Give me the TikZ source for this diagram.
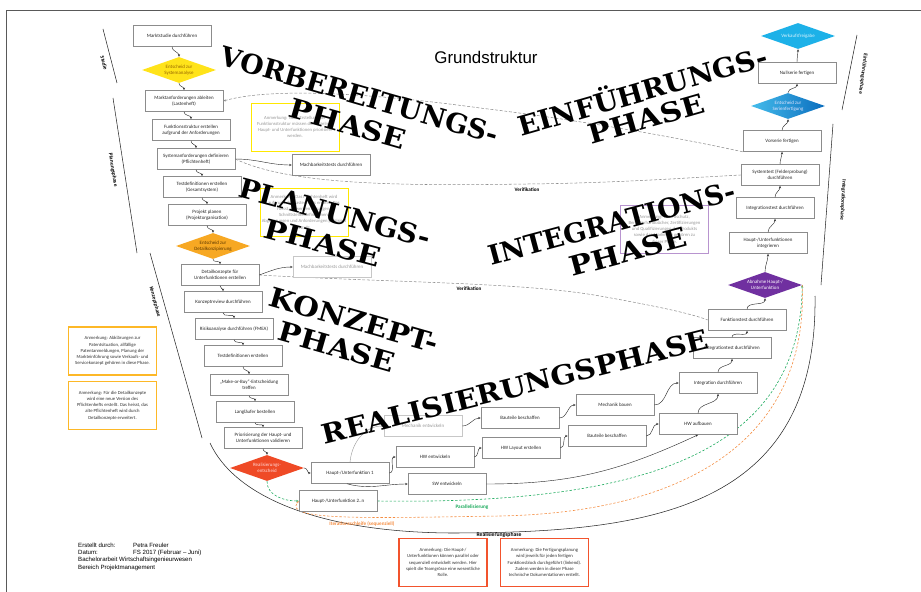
\documentclass[tikz,border=0pt]{standalone}
\usepackage{fontspec}
\newfontfamily\calfont{Carlito}
\newfontfamily\arifont{Liberation Sans}
\newfontfamily\wafont{DejaVu Serif}
\usetikzlibrary{shapes.geometric,arrows.meta,shadows,backgrounds}
\definecolor{boxgray}{HTML}{8C8C8C}
\definecolor{dyellow}{HTML}{FFE31A}
\definecolor{dorange}{HTML}{F7A823}
\definecolor{dred}{HTML}{EF4A26}
\definecolor{dpurple}{HTML}{7030A0}
\definecolor{dbluel}{HTML}{45BCEB}
\definecolor{dblued}{HTML}{0A6DBE}
\definecolor{dcyan}{HTML}{1DB1E8}
\definecolor{ayellow}{HTML}{FFE800}
\definecolor{aorange}{HTML}{FDB827}
\definecolor{ared}{HTML}{F2532D}
\definecolor{apurple}{HTML}{B894CF}
\definecolor{pgreen}{HTML}{1BAA5C}
\definecolor{porange}{HTML}{F58E43}
\begin{document}
\begin{tikzpicture}[x=0.03cm,y=0.03cm,
  bxbase/.style={rectangle, fill=white, minimum width=2.34cm, minimum height=0.63cm, inner sep=0.5pt, align=center, font=\calfont\fontsize{4.2}{5.4}\selectfont},
  bx/.style={bxbase, draw=boxgray, line width=0.5pt, text=black!85, drop shadow={shadow xshift=0.5pt, shadow yshift=-0.5pt, fill=black!60, opacity=0.35}},
  fbx/.style={bxbase, draw=black!22, line width=0.5pt, text=black!40},
  dia/.style={diamond, aspect=2.8, minimum width=2.22cm, minimum height=0.78cm, inner sep=0pt, align=center, font=\calfont\fontsize{4.2}{5.2}\selectfont},
  anno/.style={rectangle, fill=white, minimum width=2.64cm, minimum height=1.44cm, inner sep=1pt, align=center, font=\calfont\fontsize{4}{5.3}\selectfont},
  cn/.style={-{Stealth[length=2.2pt,width=1.8pt]}, line width=0.35pt, black!85},
  verif/.style={dash pattern=on 2.5pt off 1.5pt, black!45, line width=0.45pt},
  phl/.style={black!85, line width=0.45pt},
  sl/.style={font=\calfont\bfseries\fontsize{4.6}{5}\selectfont, inner sep=0pt},
  lbl/.style={font=\calfont\bfseries\fontsize{4.4}{5}\selectfont, inner sep=0pt},
  wa/.style={font=\wafont\bfseries\fontsize{23}{23}\selectfont, inner sep=0pt, text=black},
  info/.style={font=\arifont\fontsize{5.2}{6}\selectfont, anchor=west, inner sep=0pt}
]
\useasboundingbox (0,0) rectangle (921,-592);

% ---------- left column ----------
\node[bx] (mst) at (172,-36) {Marktstudie durchführen};
\node[dia, fill=dyellow, text={rgb,255:red,150;green,100;blue,0}] (d1) at (179,-70) {Entscheid zur\\Systemanalyse};
\node[bx] (ma) at (184,-101) {Marktanforderungen ableiten\\(Lastenheft)};
\node[bx] (fs) at (191,-130) {Funktionsstruktur erstellen\\aufgrund der Anforderungen};
\node[bx] (sa) at (196,-159) {Systemanforderungen definieren\\(Pflichtenheft)};
\node[bx] (td) at (202,-187) {Testdefinitionen erstellen\\(Gesamtsystem)};
\node[bx] (pp) at (207,-215) {Projekt planen\\(Projektorganisation)};
\node[dia, fill=dorange, text={rgb,255:red,90;green,55;blue,0}] (d2) at (213,-246) {Entscheid zur\\Detailkonzipierung};
\node[bx] (dk) at (220,-275) {Detailkonzepte für\\Unterfunktionen erstellen};
\node[bx] (kr) at (223,-302) {Konzeptreview durchführen};
\node[bx] (ra) at (234,-329) {Risikoanalyse durchführen (FMEA)};
\node[bx] (td2) at (243,-356) {Testdefinitionen erstellen};
\node[bx] (mb) at (249,-385) {„Make-or-Buy“-Entscheidung\\treffen};
\node[bx] (ll) at (255,-412) {Langläufer bestellen};
\node[bx] (pr) at (263,-438) {Priorisierung der Haupt- und\\Unterfunktionen validieren};
\node[dia, fill=dred, text=white!85!red] (d3) at (267,-468) {Realisierungs-\\entscheid};

\node[bx] (mk1) at (331,-165) {Machbarkeitstests durchführen};
\node[fbx] (mk2) at (332,-267) {Machbarkeitstests durchführen};

% ---------- realisation ----------
\node[bx] (h1) at (350,-473) {Haupt-/Unterfunktion 1};
\node[bx] (h2) at (338,-501) {Haupt-/Unterfunktion 2..n};
\node[bx] (hw) at (435,-457) {HW entwickeln};
\node[bx] (sw) at (447,-484) {SW entwickeln};
\node[fbx] (me) at (423,-426) {Mechanik entwickeln};
\node[bx] (bt1) at (520,-418) {Bauteile beschaffen};
\node[bx] (hl) at (521,-448) {HW Layout erstellen};
\node[bx] (mbau) at (615,-405) {Mechanik bauen};
\node[bx] (bt2) at (607,-436) {Bauteile beschaffen};
\node[bx] (ha) at (698,-424) {HW aufbauen};
\node[bx] (id) at (718,-383) {Integration durchführen};
\node[bx] (it) at (732,-348) {Integrationtest durchführen};
\node[bx] (ft) at (747,-320) {Funktionstest durchführen};

% ---------- right column ----------
\node[dia, fill=dpurple, text=white] (d4) at (765,-285) {Abnahme Haupt-/\\Unterfunktion};
\node[bx] (hi) at (768,-243) {Haupt-/Unterfunktionen\\integrieren};
\node[bx] (it2) at (775,-208) {Integrationstest durchführen};
\node[bx] (st) at (780,-175) {Systemtest (Felderprobung)\\durchführen};
\node[bx] (vs) at (782,-141) {Vorserie fertigen};
\node[dia, left color=dbluel, right color=dblued, text=white!90!blue] (d5) at (788,-106) {Entscheid zur\\Serienfertigung};
\node[bx] (ns) at (797,-73) {Nullserie fertigen};
\node[dia, fill=dcyan, text=white!85!cyan] (d6) at (798,-36) {Verkaufsfreigabe};

% ---------- connectors ----------
\foreach \a/\b in {mst/d1, d1/ma, ma/fs, fs/sa, sa/td, td/pp, pp/d2, d2/dk, dk/kr, kr/ra, ra/td2, td2/mb, mb/ll, ll/pr, pr/d3}
  \draw[cn] (\a.south) to[out=-90,in=90] (\b.north);
\foreach \a/\b in {ha/id, id/it, it/ft, ft/d4, d4/hi, hi/it2, it2/st, st/vs, vs/d5, d5/ns, ns/d6}
  \draw[cn] (\a.north) to[out=90,in=-90] (\b.south);
\foreach \a/\b in {d3/h1, h1/hw, me/bt1, hw/hl, bt1/mbau, hl/bt2, mbau/id, bt2/ha}
  \draw[cn] (\a.east) to[out=0,in=180] (\b.west);
\draw[cn] (sa.east) to[out=0,in=180] (mk1.west);
\draw[cn] (dk.east) to[out=20,in=180] (mk2.west);
\draw[cn, black!40] (h1.north) to[out=85,in=180] (me.west);
\draw[cn] ([xshift=-0.09cm]h1.south) to[out=-15,in=180] (sw.west);
\draw[cn] (sw.east) to[out=0,in=-155] (ha.south);

% ---------- annotations ----------
\node[anno, draw=ayellow, line width=0.8pt, text=black!40] (a1) at (295,-127) {Anmerkung: Nach Erstellung der\\Funktionsstruktur müssen die einzelnen\\Haupt- und Unterfunktionen priorisiert\\werden.};
\node[anno, draw=ayellow, line width=0.8pt, text=black!40] (a2) at (304,-212) {Anmerkung: Das Pflichtenheft wird\\aufgrund des Lastenhefts erstellt. Das\\heisst, es werden Lösungen,\\Schnittstellendefinitionen,\\Abgrenzungen und Anforderungen präzisiert\\erstellt.};
\node[anno, draw=apurple, line width=0.8pt, text=black!40] (a3) at (664.5,-229) {Anmerkung: Patentschutz,\\Benutzerhandbücher, Zertifizierungen\\und Qualifizierungen des Produkts\\sowie das Marketing gehören zu\\dieser Phase.};
\node[anno, draw=aorange, line width=1pt, text=black!80] (a4) at (112.5,-351) {Anmerkung: Abklärungen zur\\Patentsituation, allfällige\\Patentanmeldungen, Planung der\\Markteinführung sowie Verkaufs- und\\Servicekonzept gehören in diese Phase.};
\node[anno, draw=aorange, line width=1pt, text=black!80] (a5) at (112.5,-405.5) {Anmerkung: Für die Detailkonzepte\\wird eine neue Version des\\Pflichtenhefts erstellt. Das heisst, das\\alte Pflichtenheft wird durch\\Detailkonzepte erweitert.};
\node[anno, draw=ared, line width=1.2pt, text=black!80] (a6) at (443,-562.5) {Anmerkung: Die Haupt-/\\Unterfunktionen können parallel oder\\sequenziell entwickelt werden. Hier\\spielt die Teamgrösse eine wesentliche\\Rolle.};
\node[anno, draw=ared, line width=1.2pt, text=black!80] (a7) at (544.5,-562.5) {Anmerkung: Die Fertigungsplanung\\wird jeweils für jeden fertigen\\Funktionsblock durchgeführt (linkend).\\Zudem werden in dieser Phase\\technische Dokumentationen erstellt.};

% ---------- labels ----------
\node[font=\arifont\fontsize{14.4}{16}\selectfont, inner sep=0pt] (title) at (486,-57) {Grundstruktur};
\node[lbl] (v1) at (527,-190) {Verifikation};
\node[lbl] (v2) at (469,-289) {Verifikation};
\node[lbl, text=pgreen] (par) at (472,-507) {Parallelisierung};
\node[lbl, text=porange] (iter) at (362,-524) {Iterationsschleife (sequenziell)};
\node[lbl, font=\calfont\bfseries\fontsize{4.8}{5}\selectfont] (rph) at (499,-535) {Realisierungsphase};

\node[sl, rotate=-76] (pst) at (104,-63) {Studie};
\node[sl, rotate=-81] (ppl) at (113,-170) {Planungsphase};
\node[sl, rotate=-75] (pko) at (155,-302) {Konzeptphase};
\node[sl, rotate=-93] (pin) at (843,-200) {Integrationsphase};
\node[sl, rotate=-97] (pei) at (863,-74) {Einführungsphase};

\node[info] (i1) at (78,-545) {Erstellt durch:};
\node[info] (i2) at (133,-545) {Petra Freuler};
\node[info] (i3) at (78,-552.5) {Datum:};
\node[info] (i4) at (133,-552.5) {FS 2017 (Februar – Juni)};
\node[info] (i5) at (78,-560) {Bachelorarbeit Wirtschaftsingenieurwesen};
\node[info] (i6) at (78,-567.5) {Bereich Projektmanagement};

% ---------- background lines ----------
\begin{pgfonlayer}{background}
\fill[white] (0,0) rectangle (921,-592);
\draw[black!65, line width=0.8pt] (6,-592) -- (6,-10) -- (921,-10);
\draw[phl] (103,-29) -- (117,-83);
\draw[phl] (113,-98) -- (137,-253);
\draw[phl] (150,-253) -- (202,-438);
\draw[phl] (857,-35) -- (842,-110);
\draw[phl] (833,-124) -- (821,-285);
\draw[phl] (210,-443) .. controls (235,-497) and (320,-532) .. (450,-533) .. controls (650,-533) and (818,-510) .. (815,-296);
% verification / validation
\draw[verif] (sa.east) .. controls (290,-185) and (400,-186) .. (527,-184) .. controls (620,-183) and (700,-177) .. (st.west);
\draw[verif, -{Stealth[length=2.2pt,width=1.8pt]}] (vs.south west) .. controls (680,-138) and (580,-120) .. (480,-108) .. controls (400,-97) and (280,-85) .. (ma.east);
\draw[verif] (dk.east) .. controls (400,-283) and (520,-282) .. (600,-296) .. controls (650,-305) and (690,-313) .. (ft.west);
% parallel / iteration
\draw[pgreen, line width=0.5pt, dash pattern=on 2pt off 1.5pt, -{Stealth[length=2.2pt,width=1.8pt]}] (d3.south) to[out=-90,in=180] (h2.west);
\draw[pgreen, line width=0.5pt, dash pattern=on 2pt off 1.5pt, -{Stealth[length=2.2pt,width=1.8pt]}] (h2.east) .. controls (650,-505) and (800,-450) .. (d4.east);
\draw[porange, line width=0.5pt, dash pattern=on 2pt off 1.5pt, -{Stealth[length=2.2pt,width=1.8pt]}] (d4.east) .. controls (808,-430) and (700,-512) .. (500,-516) .. controls (370,-518) and (282,-521) .. (h2.west);
\end{pgfonlayer}

% ---------- phase word art ----------
\node[wa, rotate=-16] (w1) at (360,-95) {\scalebox{1.0}[1]{VORBEREITUNGS-}};
\node[wa, rotate=-16] (w2) at (348,-124) {\scalebox{1.12}[1]{PHASE}};
\node[wa, rotate=16] (w3) at (642,-89) {\scalebox{1.03}[1]{EINFÜHRUNGS-}};
\node[wa, rotate=16] (w4) at (646,-119) {\scalebox{1.12}[1]{PHASE}};
\node[wa, rotate=-15] (w5) at (335,-213) {\scalebox{1.05}[1]{PLANUNGS-}};
\node[wa, rotate=-15] (w6) at (323,-243) {\scalebox{1.12}[1]{PHASE}};
\node[wa, rotate=15] (w7) at (612,-223) {\scalebox{1.0}[1]{INTEGRATIONS-}};
\node[wa, rotate=15] (w8) at (628,-252) {\scalebox{1.12}[1]{PHASE}};
\node[wa, rotate=-16] (w9) at (354,-320) {\scalebox{1.1}[1]{KONZEPT-}};
\node[wa, rotate=-16] (w10) at (337,-347) {\scalebox{1.12}[1]{PHASE}};
\node[wa, rotate=14] (w11) at (515,-387) {\scalebox{1.08}[1]{REALISIERUNGSPHASE}};
\end{tikzpicture}
\end{document}
